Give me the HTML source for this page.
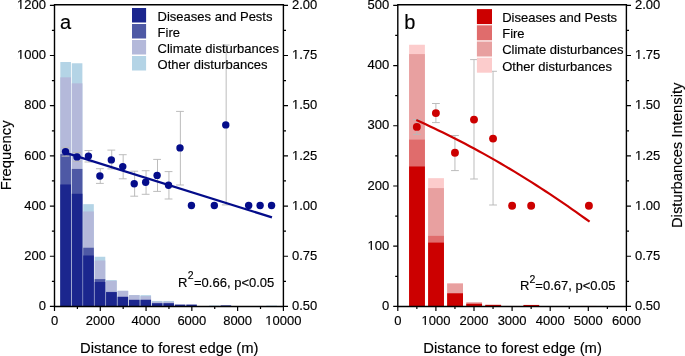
<!DOCTYPE html>
<html><head><meta charset="utf-8"><style>
html,body{margin:0;padding:0;background:#fff;}
svg{display:block;font-family:"Liberation Sans",sans-serif;}
svg{will-change:transform;}
text{stroke:#000;stroke-width:0.15px;}
</style></head><body>
<svg width="685" height="356" viewBox="0 0 685 356">
<rect width="685" height="356" fill="#fff"/>
<rect x="60.34" y="62.02" width="10.6" height="244.43" fill="#B4D4E6"/>
<rect x="60.34" y="77.33" width="10.6" height="229.12" fill="#B4B9DA"/>
<rect x="60.34" y="154.12" width="10.6" height="152.33" fill="#4E59A5"/>
<rect x="60.34" y="184.48" width="10.6" height="121.97" fill="#1B268E"/>
<rect x="71.79" y="63.27" width="10.6" height="243.18" fill="#B4D4E6"/>
<rect x="71.79" y="83.35" width="10.6" height="223.1" fill="#B4B9DA"/>
<rect x="71.79" y="168.92" width="10.6" height="137.53" fill="#4E59A5"/>
<rect x="71.79" y="193.77" width="10.6" height="112.68" fill="#1B268E"/>
<rect x="83.23" y="204.16" width="10.6" height="102.29" fill="#B4D4E6"/>
<rect x="83.23" y="211.46" width="10.6" height="94.99" fill="#B4B9DA"/>
<rect x="83.23" y="247.73" width="10.6" height="58.72" fill="#4E59A5"/>
<rect x="83.23" y="255.51" width="10.6" height="50.94" fill="#1B268E"/>
<rect x="94.68" y="256.76" width="10.6" height="49.69" fill="#B4D4E6"/>
<rect x="94.68" y="260.52" width="10.6" height="45.93" fill="#B4B9DA"/>
<rect x="94.68" y="279.1" width="10.6" height="27.35" fill="#4E59A5"/>
<rect x="94.68" y="281.98" width="10.6" height="24.47" fill="#1B268E"/>
<rect x="106.12" y="280.1" width="10.6" height="26.35" fill="#B4D4E6"/>
<rect x="106.12" y="280.85" width="10.6" height="25.6" fill="#B4B9DA"/>
<rect x="106.12" y="291.89" width="10.6" height="14.56" fill="#4E59A5"/>
<rect x="106.12" y="292.15" width="10.6" height="14.3" fill="#1B268E"/>
<rect x="117.57" y="290.77" width="10.6" height="15.68" fill="#B4D4E6"/>
<rect x="117.57" y="290.89" width="10.6" height="15.56" fill="#B4B9DA"/>
<rect x="117.57" y="296.76" width="10.6" height="9.69" fill="#1B268E"/>
<rect x="129.01" y="295.03" width="10.6" height="11.42" fill="#B4D4E6"/>
<rect x="129.01" y="295.16" width="10.6" height="11.29" fill="#B4B9DA"/>
<rect x="129.01" y="299.8" width="10.6" height="6.65" fill="#1B268E"/>
<rect x="140.46" y="295.16" width="10.6" height="11.29" fill="#B4D4E6"/>
<rect x="140.46" y="296.16" width="10.6" height="10.29" fill="#B4B9DA"/>
<rect x="140.46" y="299.75" width="10.6" height="6.7" fill="#1B268E"/>
<rect x="151.9" y="300.93" width="10.6" height="5.52" fill="#B4D4E6"/>
<rect x="151.9" y="301.68" width="10.6" height="4.77" fill="#B4B9DA"/>
<rect x="151.9" y="303.19" width="10.6" height="3.26" fill="#1B268E"/>
<rect x="163.35" y="300.93" width="10.6" height="5.52" fill="#B4D4E6"/>
<rect x="163.35" y="301.68" width="10.6" height="4.77" fill="#B4B9DA"/>
<rect x="163.35" y="303.19" width="10.6" height="3.26" fill="#1B268E"/>
<rect x="174.79" y="304.57" width="10.6" height="1.88" fill="#1B268E"/>
<rect x="186.24" y="304.57" width="10.6" height="1.88" fill="#1B268E"/>
<rect x="209.13" y="305.45" width="10.6" height="1" fill="#B4D4E6"/>
<rect x="209.13" y="305.95" width="10.6" height="0.5" fill="#B4B9DA"/>
<rect x="220.57" y="305.2" width="10.6" height="1.25" fill="#4E59A5"/>
<rect x="220.57" y="306.2" width="10.6" height="0.25" fill="#1B268E"/>
<rect x="243.46" y="306.07" width="10.6" height="0.38" fill="#B4B9DA"/>
<rect x="266.36" y="305.57" width="10.6" height="0.88" fill="#B4D4E6"/>
<rect x="409.1" y="44.75" width="15.8" height="261.7" fill="#FCCCCC"/>
<rect x="409.1" y="54.09" width="15.8" height="252.36" fill="#E8A0A0"/>
<rect x="409.1" y="139.61" width="15.8" height="166.84" fill="#E06C6C"/>
<rect x="409.1" y="166.48" width="15.8" height="139.97" fill="#CC0000"/>
<rect x="428.15" y="178.16" width="15.8" height="128.29" fill="#FCCCCC"/>
<rect x="428.15" y="188.1" width="15.8" height="118.35" fill="#E8A0A0"/>
<rect x="428.15" y="235.86" width="15.8" height="70.59" fill="#E06C6C"/>
<rect x="428.15" y="242.61" width="15.8" height="63.84" fill="#CC0000"/>
<rect x="447.2" y="283.26" width="15.8" height="23.19" fill="#FCCCCC"/>
<rect x="447.2" y="283.56" width="15.8" height="22.89" fill="#E8A0A0"/>
<rect x="447.2" y="293.2" width="15.8" height="13.25" fill="#E06C6C"/>
<rect x="447.2" y="293.38" width="15.8" height="13.07" fill="#CC0000"/>
<rect x="466.25" y="302.23" width="15.8" height="4.22" fill="#E8A0A0"/>
<rect x="466.25" y="303.74" width="15.8" height="2.71" fill="#CC0000"/>
<rect x="485.3" y="304.64" width="15.8" height="1.81" fill="#E8A0A0"/>
<rect x="485.3" y="304.94" width="15.8" height="1.51" fill="#CC0000"/>
<rect x="504.35" y="305.85" width="15.8" height="0.6" fill="#FCCCCC"/>
<rect x="523.4" y="304.94" width="15.8" height="1.51" fill="#CC0000"/>
<rect x="580.55" y="305.85" width="15.8" height="0.6" fill="#FCCCCC"/>
<path d="M65.94 147.4V156.2M61.64 147.4H69.44M61.64 156.2H69.44" stroke="#B8B8B8" stroke-width="0.95" fill="none"/>
<path d="M77.39 152.5V161.4M73.09 152.5H80.89M73.09 161.4H80.89" stroke="#B8B8B8" stroke-width="0.95" fill="none"/>
<path d="M88.83 150.5V162M84.53 150.5H92.33M84.53 162H92.33" stroke="#B8B8B8" stroke-width="0.95" fill="none"/>
<path d="M100.28 168.7V183.4M95.98 168.7H103.78M95.98 183.4H103.78" stroke="#B8B8B8" stroke-width="0.95" fill="none"/>
<path d="M111.72 150.1V168.9M107.42 150.1H115.22M107.42 168.9H115.22" stroke="#B8B8B8" stroke-width="0.95" fill="none"/>
<path d="M123.17 154.7V178.8M118.87 154.7H126.67M118.87 178.8H126.67" stroke="#B8B8B8" stroke-width="0.95" fill="none"/>
<path d="M134.62 171.2V196.2M130.31 171.2H138.12M130.31 196.2H138.12" stroke="#B8B8B8" stroke-width="0.95" fill="none"/>
<path d="M146.06 170.7V194.3M141.76 170.7H149.56M141.76 194.3H149.56" stroke="#B8B8B8" stroke-width="0.95" fill="none"/>
<path d="M157.5 159.4V191.4M153.2 159.4H161M153.2 191.4H161" stroke="#B8B8B8" stroke-width="0.95" fill="none"/>
<path d="M168.95 171.6V199M164.65 171.6H172.45M164.65 199H172.45" stroke="#B8B8B8" stroke-width="0.95" fill="none"/>
<path d="M180.39 111.4V185M176.09 111.4H183.89M176.09 185H183.89" stroke="#B8B8B8" stroke-width="0.95" fill="none"/>
<path d="M226.17 45V204.9M221.87 45H229.67M221.87 204.9H229.67" stroke="#B8B8B8" stroke-width="0.95" fill="none"/>
<path d="M416.85 119.5V134.4M412.95 119.5H420.75M412.95 134.4H420.75" stroke="#B8B8B8" stroke-width="0.95" fill="none"/>
<path d="M435.9 103.5V122.6M432 103.5H439.8M432 122.6H439.8" stroke="#B8B8B8" stroke-width="0.95" fill="none"/>
<path d="M454.95 135.5V170.6M451.05 135.5H458.85M451.05 170.6H458.85" stroke="#B8B8B8" stroke-width="0.95" fill="none"/>
<path d="M474 59.6V179M470.1 59.6H477.9M470.1 179H477.9" stroke="#B8B8B8" stroke-width="0.95" fill="none"/>
<path d="M493.05 71.3V205M489.15 71.3H496.95M489.15 205H496.95" stroke="#B8B8B8" stroke-width="0.95" fill="none"/>
<line x1="65.94" y1="152.9" x2="271.96" y2="217.4" stroke="#040C8A" stroke-width="2.2"/>
<path d="M416.3 120.1 L420.74 122.1 L425.19 124.12 L429.63 126.18 L434.07 128.27 L438.52 130.4 L442.96 132.55 L447.41 134.74 L451.85 136.96 L456.29 139.21 L460.74 141.5 L465.18 143.81 L469.62 146.16 L474.07 148.54 L478.51 150.95 L482.95 153.4 L487.4 155.87 L491.84 158.38 L496.28 160.92 L500.73 163.5 L505.17 166.1 L509.62 168.74 L514.06 171.41 L518.5 174.11 L522.95 176.84 L527.39 179.61 L531.83 182.41 L536.28 185.24 L540.72 188.1 L545.16 190.99 L549.61 193.92 L554.05 196.88 L558.49 199.87 L562.94 202.89 L567.38 205.95 L571.83 209.04 L576.27 212.15 L580.71 215.31 L585.16 218.49 L589.6 221.71" stroke="#CC0000" stroke-width="2.2" fill="none"/>
<circle cx="65.54" cy="151.6" r="3.7" fill="#040C8A"/>
<circle cx="76.99" cy="156.9" r="3.7" fill="#040C8A"/>
<circle cx="88.43" cy="156.1" r="3.7" fill="#040C8A"/>
<circle cx="99.88" cy="176" r="3.7" fill="#040C8A"/>
<circle cx="111.32" cy="159.9" r="3.7" fill="#040C8A"/>
<circle cx="122.77" cy="166.6" r="3.7" fill="#040C8A"/>
<circle cx="134.22" cy="183.8" r="3.7" fill="#040C8A"/>
<circle cx="145.66" cy="182.2" r="3.7" fill="#040C8A"/>
<circle cx="157.1" cy="175.4" r="3.7" fill="#040C8A"/>
<circle cx="168.55" cy="185.3" r="3.7" fill="#040C8A"/>
<circle cx="179.99" cy="147.9" r="3.7" fill="#040C8A"/>
<circle cx="191.44" cy="205.5" r="3.7" fill="#040C8A"/>
<circle cx="214.33" cy="205.5" r="3.7" fill="#040C8A"/>
<circle cx="225.77" cy="124.9" r="3.7" fill="#040C8A"/>
<circle cx="248.66" cy="205.5" r="3.7" fill="#040C8A"/>
<circle cx="260.11" cy="205.5" r="3.7" fill="#040C8A"/>
<circle cx="271.56" cy="205.5" r="3.7" fill="#040C8A"/>
<circle cx="416.85" cy="126.9" r="3.95" fill="#CC0000"/>
<circle cx="435.9" cy="113.1" r="3.95" fill="#CC0000"/>
<circle cx="454.95" cy="152.8" r="3.95" fill="#CC0000"/>
<circle cx="474" cy="119.6" r="3.95" fill="#CC0000"/>
<circle cx="493.05" cy="138.6" r="3.95" fill="#CC0000"/>
<circle cx="512.1" cy="205.8" r="3.95" fill="#CC0000"/>
<circle cx="531.15" cy="205.8" r="3.95" fill="#CC0000"/>
<circle cx="588.9" cy="205.8" r="3.95" fill="#CC0000"/>
<path d="M54.5 4.75V306.45H283.4V4.75H54.5Z" stroke="#000" stroke-width="1.4" fill="none"/>
<path d="M397.8 4.75V306.45H626.4V4.75H397.8Z" stroke="#000" stroke-width="1.4" fill="none"/>
<path d="M49.9 306.45H54.5M51.9 281.35H54.5M49.9 256.26H54.5M51.9 231.16H54.5M49.9 206.07H54.5M51.9 180.97H54.5M49.9 155.88H54.5M51.9 130.78H54.5M49.9 105.68H54.5M51.9 80.59H54.5M49.9 55.49H54.5M51.9 30.4H54.5M49.9 5.3H54.5M54.5 306.45V311.05M77.39 306.45V309.05M100.28 306.45V311.05M123.17 306.45V309.05M146.06 306.45V311.05M168.95 306.45V309.05M191.84 306.45V311.05M214.73 306.45V309.05M237.62 306.45V311.05M260.51 306.45V309.05M283.4 306.45V311.05M283.4 306.45H288M626.4 306.45H631M283.4 281.35H286M626.4 281.35H629M283.4 256.26H288M626.4 256.26H631M283.4 231.16H286M626.4 231.16H629M283.4 206.07H288M626.4 206.07H631M283.4 180.97H286M626.4 180.97H629M283.4 155.88H288M626.4 155.88H631M283.4 130.78H286M626.4 130.78H629M283.4 105.68H288M626.4 105.68H631M283.4 80.59H286M626.4 80.59H629M283.4 55.49H288M626.4 55.49H631M283.4 30.4H286M626.4 30.4H629M283.4 5.3H288M626.4 5.3H631M393.2 306.45H397.8M395.2 276.33H397.8M393.2 246.22H397.8M395.2 216.1H397.8M393.2 185.99H397.8M395.2 155.88H397.8M393.2 125.76H397.8M395.2 95.65H397.8M393.2 65.53H397.8M395.2 35.41H397.8M393.2 5.3H397.8M397.8 306.45V311.05M416.85 306.45V309.05M435.9 306.45V311.05M454.95 306.45V309.05M474 306.45V311.05M493.05 306.45V309.05M512.1 306.45V311.05M531.15 306.45V309.05M550.2 306.45V311.05M569.25 306.45V309.05M588.3 306.45V311.05M607.35 306.45V309.05M626.4 306.45V311.05" stroke="#000" stroke-width="1.2" fill="none"/>
<g font-size="13" fill="#000"><text x="45.9" y="310.15" text-anchor="end">0</text><text x="45.9" y="259.96" text-anchor="end">200</text><text x="45.9" y="209.77" text-anchor="end">400</text><text x="45.9" y="159.57" text-anchor="end">600</text><text x="45.9" y="109.38" text-anchor="end">800</text><text x="45.9" y="59.19" text-anchor="end">1000</text><text x="45.9" y="9" text-anchor="end">1200</text><text x="389.2" y="310.15" text-anchor="end">0</text><text x="389.2" y="249.92" text-anchor="end">100</text><text x="389.2" y="189.69" text-anchor="end">200</text><text x="389.2" y="129.46" text-anchor="end">300</text><text x="389.2" y="69.23" text-anchor="end">400</text><text x="389.2" y="9" text-anchor="end">500</text><text x="292" y="310.15">0.50</text><text x="635" y="310.15">0.50</text><text x="292" y="259.96">0.75</text><text x="635" y="259.96">0.75</text><text x="292" y="209.77">1.00</text><text x="635" y="209.77">1.00</text><text x="292" y="159.57">1.25</text><text x="635" y="159.57">1.25</text><text x="292" y="109.38">1.50</text><text x="635" y="109.38">1.50</text><text x="292" y="59.19">1.75</text><text x="635" y="59.19">1.75</text><text x="292" y="9">2.00</text><text x="635" y="9">2.00</text><text x="54.5" y="325.0" text-anchor="middle">0</text><text x="100.28" y="325.0" text-anchor="middle">2000</text><text x="146.06" y="325.0" text-anchor="middle">4000</text><text x="191.84" y="325.0" text-anchor="middle">6000</text><text x="237.62" y="325.0" text-anchor="middle">8000</text><text x="283.4" y="325.0" text-anchor="middle">10000</text><text x="397.8" y="325.0" text-anchor="middle">0</text><text x="435.9" y="325.0" text-anchor="middle">1000</text><text x="474" y="325.0" text-anchor="middle">2000</text><text x="512.1" y="325.0" text-anchor="middle">3000</text><text x="550.2" y="325.0" text-anchor="middle">4000</text><text x="588.3" y="325.0" text-anchor="middle">5000</text><text x="626.4" y="325.0" text-anchor="middle">6000</text></g>
<path d="M17.36 58H20.25V59.3H17.36ZM21.4 58H23.96V59.3H21.4ZM17.36 8H20.25V9.3H17.36ZM21.4 8H23.96V9.3H21.4ZM367.89 249H370.78V250.3H367.89ZM371.93 249H374.49V250.3H371.93ZM292.38 209H295.27V210.3H292.38ZM296.42 209H298.98V210.3H296.42ZM635.38 209H638.27V210.3H635.38ZM639.42 209H641.98V210.3H639.42ZM292.38 159H295.27V160.3H292.38ZM296.42 159H298.98V160.3H296.42ZM635.38 159H638.27V160.3H635.38ZM639.42 159H641.98V160.3H639.42ZM292.38 108H295.27V109.3H292.38ZM296.42 108H298.98V109.3H296.42ZM635.38 108H638.27V109.3H635.38ZM639.42 108H641.98V109.3H639.42ZM292.38 58H295.27V59.3H292.38ZM296.42 58H298.98V59.3H296.42ZM635.38 58H638.27V59.3H635.38ZM639.42 58H641.98V59.3H639.42ZM265.71 324H268.59V325.3H265.71ZM269.74 324H272.31V325.3H269.74ZM421.82 324H424.71V325.3H421.82ZM425.86 324H428.42V325.3H425.86Z" fill="#fff"/>
<g font-size="14.8" fill="#000"><text x="169.25" y="352.6" text-anchor="middle">Distance to forest edge (m)</text><text x="512.6" y="352.6" text-anchor="middle">Distance to forest edge (m)</text><text transform="translate(10.7 155.4) rotate(-90)" text-anchor="middle">Frequency</text><text transform="translate(682 155.3) rotate(-90)" text-anchor="middle">Disturbances Intensity</text></g>
<g font-size="20" fill="#000"><text x="60" y="29.2">a</text><text x="404.3" y="28.8">b</text></g>
<g font-size="13" fill="#000"><rect x="132" y="8" width="14.1" height="14.5" fill="#1B268E"/><text x="157.6" y="20.9">Diseases and Pests</text><rect x="132" y="24" width="14.1" height="14.5" fill="#4E59A5"/><text x="157.6" y="37.05">Fire</text><rect x="132" y="40" width="14.1" height="14.5" fill="#B4B9DA"/><text x="157.6" y="53.2">Climate disturbances</text><rect x="132" y="56" width="14.1" height="14.5" fill="#B4D4E6"/><text x="157.6" y="69.35">Other disturbances</text><rect x="476.9" y="9.1" width="15.1" height="15" fill="#CC0000"/><text x="502.2" y="22">Diseases and Pests</text><rect x="476.9" y="25.3" width="15.1" height="15" fill="#E06C6C"/><text x="502.2" y="38.2">Fire</text><rect x="476.9" y="41.5" width="15.1" height="15" fill="#E8A0A0"/><text x="502.2" y="54.4">Climate disturbances</text><rect x="476.9" y="57.7" width="15.1" height="15" fill="#FCCCCC"/><text x="502.2" y="70.6">Other disturbances</text></g>
<g font-size="13" fill="#000"><text x="178.0" y="286.8">R<tspan font-size="10.5" dx="0.3" dy="-7.6">2</tspan><tspan dx="0.5" dy="7.6">=0.66, p&lt;0.05</tspan></text><text x="520.1" y="290.1">R<tspan font-size="10.5" dy="-7.6">2</tspan><tspan dy="7.6">=0.67, p&lt;0.05</tspan></text></g>
</svg>
</body></html>
